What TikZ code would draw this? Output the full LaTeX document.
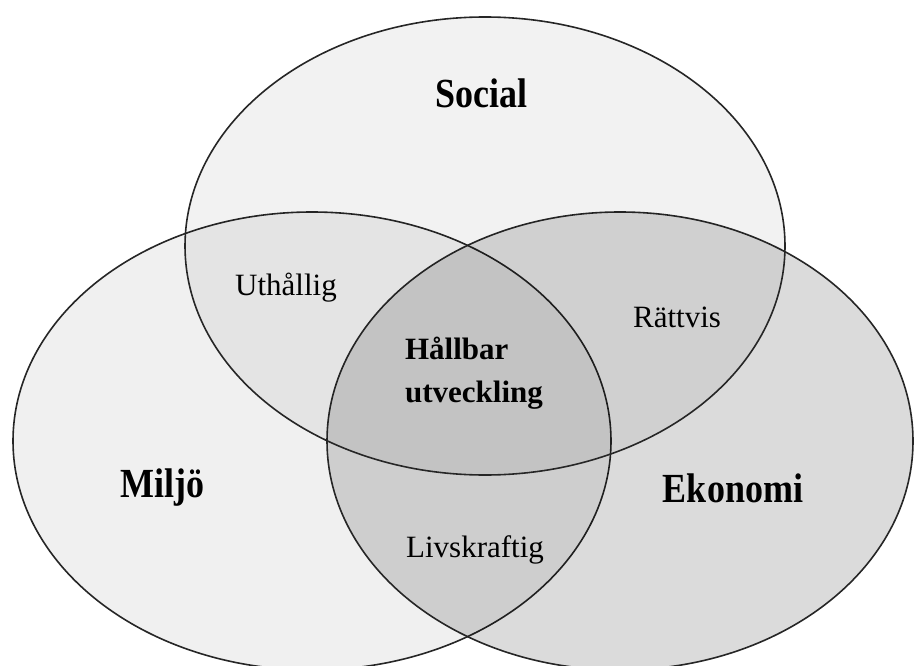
\documentclass[tikz,border=0pt]{standalone}
\usepackage{fontspec}
\setmainfont{Liberation Serif}
\usetikzlibrary{shapes.geometric}
\tikzset{%
	ring/.style={draw=black!85, line width=1.6pt, ellipse, inner sep=0pt, fill=black,%
		minimum height=458pt},
	big/.style={font=\bfseries\fontsize{36}{40}\selectfont, yscale=1.15},
	small/.style={font=\fontsize{31}{37}\selectfont},
	mid/.style={font=\bfseries\fontsize{31}{43}\selectfont, align=left}
}
\begin{document}
\begin{tikzpicture}[x=1pt, y=-1pt]
	\useasboundingbox (0,0) rectangle (915,666);
	\node[ring, fill opacity=0.06, minimum width=598pt] (miljo) at (312,441) {};
	\node[ring, fill opacity=0.14, minimum width=586pt] (ekonomi) at (620,441) {};
	\node[ring, fill opacity=0.05, minimum width=600pt] (social) at (485,246) {};
	\node[big] (l-social) at (481,93) {Social};
	\node[big] (l-miljo) at (162,488) {Miljö};
	\node[big] (l-ekonomi) at (733,488) {Ekonomi};
	\node[small] (l-uthallig) at (286,288) {Uthållig};
	\node[small] (l-rattvis) at (677,317) {Rättvis};
	\node[mid] (l-hallbar) at (474,373) {Hållbar\\utveckling};
	\node[small] (l-livskraftig) at (475,550) {Livskraftig};
\end{tikzpicture}
\end{document}
